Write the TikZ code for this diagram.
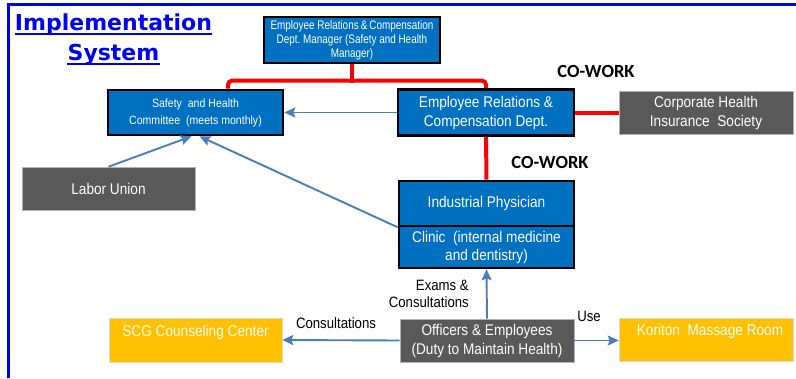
\documentclass[tikz,border=0pt]{standalone}
\usepackage{fontspec}
\setmainfont[FakeStretch=0.88]{Liberation Sans}
\newfontfamily\mgrfont[FakeStretch=0.8]{Liberation Sans}
\newfontfamily\cofont{Carlito}
\newfontfamily\titlefont{DejaVu Sans}
\usetikzlibrary{arrows.meta}
\definecolor{boxblue}{HTML}{0070C0}
\definecolor{boxgray}{HTML}{595959}
\definecolor{boxyellow}{HTML}{FFC000}
\definecolor{arrowblue}{HTML}{4A7EBB}
\definecolor{frameblue}{HTML}{0000F0}
\definecolor{cored}{HTML}{FF0000}
\newcommand\fsz[2]{\fontsize{#1}{#2}\selectfont}
\tikzset{
  bluebox/.style={draw=black, line width=2.6pt, fill=boxblue, text=white, align=center, inner sep=0pt, font=\fsz{15.5}{19}},
  graybox/.style={draw=gray!60, line width=0.6pt, fill=boxgray, text=white, align=center, inner sep=0pt, font=\fsz{15.5}{19}},
  yellowbox/.style={draw=gray!30, line width=0.6pt, fill=boxyellow, text=white, align=center, inner sep=0pt, font=\fsz{15.5}{19}},
  titletext/.style={inner sep=0pt, text=frameblue, font=\titlefont\bfseries\fsz{22}{30}},
  lbl/.style={inner sep=0pt, text=black, font=\fsz{15}{17}},
  cowork/.style={inner sep=0pt, text=black, font=\cofont\bfseries\fsz{18.5}{20}},
  redline/.style={draw=cored, line width=4pt},
  bluearrow/.style={draw=arrowblue, line width=1.9pt, -{Stealth[length=11pt,width=10pt,inset=2pt]}}
}
\begin{document}
\begin{tikzpicture}[x=1pt,y=-1pt]
\useasboundingbox (0,0) rectangle (796,378);
% frame
\draw[frameblue, line width=3pt] (8,378) -- (8,4) -- (796,4);
% title
\node[titletext, anchor=base] (t1) at (113.5,30) {Implementation};
\node[titletext, anchor=base] (t2) at (113.5,60) {System};
\draw[frameblue, line width=1.6pt] ([yshift=-4pt]t1.base west) -- ([yshift=-4pt]t1.base east);
\draw[frameblue, line width=1.6pt] ([yshift=-4pt]t2.base west) -- ([yshift=-4pt]t2.base east);
% boxes
\node[bluebox, minimum width=176, minimum height=46, font=\mgrfont\fsz{12.4}{14}] (mgr) at (352,40)
  {Employee Relations\,\&\,Compensation\\Dept.\ Manager (Safety and Health\\Manager)};
\node[bluebox, minimum width=175, minimum height=45, font=\fsz{12}{17}] (com) at (195.5,112.5)
  {Safety\ \ and Health\\Committee\ \ (meets monthly)};
\node[bluebox, minimum width=176, minimum height=46] (erc) at (486,112.5)
  {Employee Relations \&\\Compensation Dept.};
\node[graybox, minimum width=174, minimum height=43] (chis) at (706,112.5)
  {Corporate Health\\Insurance\ \ Society};
\node[graybox, minimum width=173, minimum height=43] (lab) at (108.5,188.5) {Labor Union};
\node[bluebox, minimum width=175, minimum height=45] (phys) at (486.5,203.5) {Industrial Physician};
\node[bluebox, minimum width=175, minimum height=42, font=\fsz{15.5}{18}] (clin) at (486.5,247)
  {Clinic\ \ (internal medicine\\and dentistry)};
\node[graybox, minimum width=174, minimum height=43] (off) at (487,340.5)
  {Officers \& Employees\\(Duty to Maintain Health)};
\node[yellowbox, minimum width=173, minimum height=44] (scg) at (195.5,340)
  {SCG Counseling Center\\\mbox{}};
\node[yellowbox, minimum width=174, minimum height=43] (kor) at (706,339.5)
  {\hspace{8pt}Koriton\ \ Massage Room\\\mbox{}};
% red co-work lines
\draw[redline] (mgr.south) -- ++(0,19);
\draw[redline, rounded corners=4pt] ([xshift=32.5pt]com.north) -- ++(0,-8) -| (erc.north);
\draw[redline] (erc.east) -- (chis.west);
\draw[redline] (erc.south) -- (phys.north);
\node[cowork] (cw1) at (596,71) {CO-WORK};
\node[cowork] (cw2) at (550,162) {CO-WORK};
% blue arrows
\draw[bluearrow] (erc.west) -- (com.east);
\draw[bluearrow] (lab.north) -- ([xshift=-4pt]com.south);
\draw[bluearrow] (phys.south west) -- ([xshift=4pt]com.south);
\draw[bluearrow] (off.north) -- (clin.south);
\draw[bluearrow] (off.west) -- (scg.east);
\draw[bluearrow] (off.east) -- (off.east -| kor.west);
% labels
\node[lbl, anchor=east, align=right] (lex) at (469,294) {Exams \&\\Consultations};
\node[lbl] (lcons) at (336,323) {Consultations};
\node[lbl] (luse) at (589,316) {Use};
\end{tikzpicture}
\end{document}
